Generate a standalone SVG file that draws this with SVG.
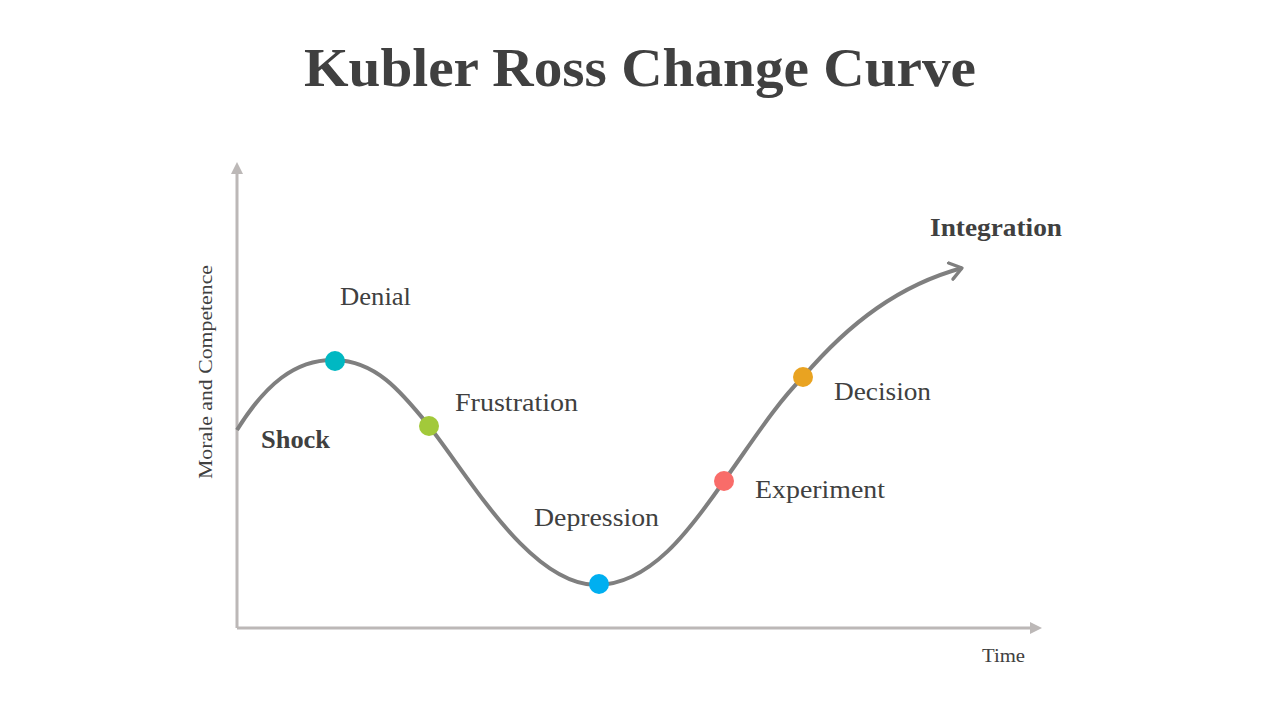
<svg xmlns="http://www.w3.org/2000/svg" width="1280" height="720" viewBox="0 0 1280 720">
<defs>
<marker id="axisHead" viewBox="0 0 10 10" refX="5" refY="5" markerWidth="4" markerHeight="4" orient="auto" markerUnits="strokeWidth">
<path d="M0,0 L10,5 L0,10 z" fill="#bcb8b7"/>
</marker>
<marker id="curveHead" viewBox="0 0 12 12" refX="9" refY="6" markerWidth="5" markerHeight="5" orient="auto" markerUnits="strokeWidth">
<path d="M2,1 L9,6 L2,11" fill="none" stroke="#7f7f7f" stroke-width="2" stroke-linecap="round" stroke-linejoin="round"/>
</marker>
</defs>
<style>
.t{font-family:"Liberation Serif","DejaVu Serif",serif;fill:#404040}
.lbl{font-size:25px}
.b{font-weight:bold}
</style>
<rect width="1280" height="720" fill="#ffffff"/>
<text class="t b" x="640" y="86" text-anchor="middle" font-size="54" textLength="672" lengthAdjust="spacingAndGlyphs">Kubler Ross Change Curve</text>
<g id="connectors">
<line x1="237" y1="628" x2="237" y2="168" stroke="#bcb8b7" stroke-width="3" marker-end="url(#axisHead)"/>
<line x1="237" y1="628" x2="1036" y2="628" stroke="#bcb8b7" stroke-width="3" marker-end="url(#axisHead)"/>
<path d="M237,430 C265,385 295,359 335,360 C375,361 400,390 429,426 C470,478 530,584 596,585 C650,585 690,530 724,481 C750,445 775,405 803,377 C850,322 900,285 962,268" fill="none" stroke="#7f7f7f" stroke-width="4" marker-end="url(#curveHead)"/>
</g>
<g id="y-axis-label"><text class="t" font-size="19" transform="translate(212,372) rotate(-90)" text-anchor="middle" textLength="214" lengthAdjust="spacingAndGlyphs">Morale and Competence</text></g>
<g id="x-axis-label"><text class="t" x="982" y="662" font-size="19" textLength="43" lengthAdjust="spacingAndGlyphs">Time</text></g>
<g id="shock"><text class="t b lbl" x="261" y="448" textLength="69" lengthAdjust="spacingAndGlyphs">Shock</text></g>
<g id="denial"><circle cx="335" cy="361" r="10" fill="#00b8c2"/><text class="t lbl" x="340" y="305" textLength="71" lengthAdjust="spacingAndGlyphs">Denial</text></g>
<g id="frustration"><circle cx="429" cy="426" r="10" fill="#a2c93a"/><text class="t lbl" x="455" y="411" textLength="123" lengthAdjust="spacingAndGlyphs">Frustration</text></g>
<g id="depression"><circle cx="599" cy="584" r="10" fill="#00aff0"/><text class="t lbl" x="534" y="526" textLength="125" lengthAdjust="spacingAndGlyphs">Depression</text></g>
<g id="experiment"><circle cx="724" cy="481" r="10" fill="#f96c69"/><text class="t lbl" x="755" y="498" textLength="130" lengthAdjust="spacingAndGlyphs">Experiment</text></g>
<g id="decision"><circle cx="803" cy="377" r="10" fill="#e9a321"/><text class="t lbl" x="834" y="400" textLength="97" lengthAdjust="spacingAndGlyphs">Decision</text></g>
<g id="integration"><text class="t b lbl" x="930" y="236" textLength="132" lengthAdjust="spacingAndGlyphs">Integration</text></g>
</svg>
